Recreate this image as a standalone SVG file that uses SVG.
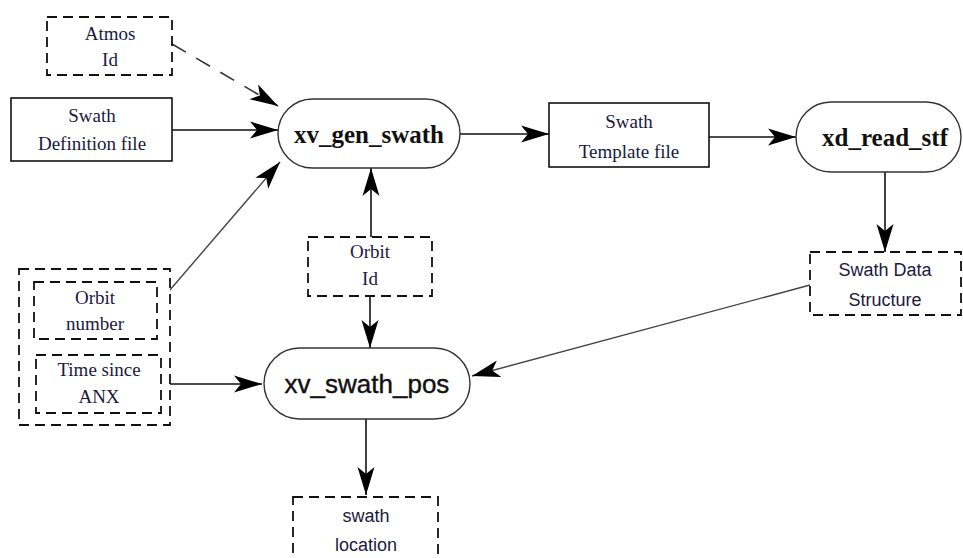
<svg xmlns="http://www.w3.org/2000/svg" width="963" height="558" viewBox="0 0 963 558">
<defs>
<marker id="ah" markerUnits="userSpaceOnUse" markerWidth="30" markerHeight="20" refX="28" refY="10" orient="auto">
<path d="M0,1.5 L28,10 L0,18.5 L7,10 Z" fill="#000"/>
</marker>
</defs>
<style>
.box{fill:#fff;stroke:#111;stroke-width:1.6}
.dash{fill:#fff;stroke:#111;stroke-width:1.8;stroke-dasharray:10 6}
.proc{fill:#fff;stroke:#333;stroke-width:1.4}
.s{font-family:"Liberation Serif","Times New Roman",serif;font-size:19px;fill:#1a1a40;text-anchor:middle}
.b{font-family:"Liberation Serif","Times New Roman",serif;font-size:25px;font-weight:bold;fill:#111;text-anchor:middle}
.a{font-family:"Liberation Sans",Arial,sans-serif;font-size:18px;fill:#1a1a40;text-anchor:middle}
.ab{font-family:"Liberation Sans",Arial,sans-serif;font-size:26px;fill:#111;text-anchor:middle;stroke:#111;stroke-width:0.4}
.c{fill:none;stroke:#111;stroke-width:1.6;marker-end:url(#ah)}
.cg{fill:none;stroke:#444;stroke-width:1.4;marker-end:url(#ah)}
.cd{fill:none;stroke:#333;stroke-width:1.6;stroke-dasharray:16 12;marker-end:url(#ah)}
</style>
<g id="connectors">
<line class="cd" x1="172" y1="44" x2="278" y2="106"/>
<line class="c" x1="172" y1="130" x2="278" y2="130"/>
<line class="cg" x1="157" y1="305" x2="280" y2="162"/>
<line class="c" x1="460" y1="134" x2="549" y2="134"/>
<line class="c" x1="709" y1="137" x2="796" y2="137"/>
<line class="c" x1="885" y1="172" x2="885" y2="252"/>
<line class="cg" x1="810" y1="285" x2="472" y2="376"/>
<line class="c" x1="371" y1="237" x2="371" y2="168"/>
<line class="c" x1="370" y1="296" x2="370" y2="348"/>
<line class="c" x1="170" y1="384" x2="262" y2="384"/>
<line class="c" x1="366" y1="419" x2="366" y2="495"/>
</g>
<g id="atmos-id">
<rect class="dash" x="47" y="17" width="125" height="58"/>
<text class="s" x="110" y="40">Atmos</text>
<text class="s" x="110" y="66">Id</text>
</g>
<g id="swath-definition-file">
<rect class="box" x="11" y="98" width="161" height="63"/>
<text class="s" x="92" y="122">Swath</text>
<text class="s" x="92" y="150">Definition file</text>
</g>
<g id="xv-gen-swath">
<rect class="proc" x="278" y="99" width="182" height="69" rx="34.5"/>
<text class="b" x="369" y="143">xv_gen_swath</text>
</g>
<g id="swath-template-file">
<rect class="box" x="549" y="103" width="160" height="64"/>
<text class="s" x="629" y="128">Swath</text>
<text class="s" x="629" y="158">Template file</text>
</g>
<g id="xd-read-stf">
<rect class="proc" x="796" y="102" width="165" height="70" rx="35"/>
<text class="b" x="885" y="146">xd_read_stf</text>
</g>
<g id="swath-data-structure">
<rect class="dash" x="810" y="252" width="151" height="63"/>
<text class="a" x="885" y="276">Swath Data</text>
<text class="a" x="885" y="306">Structure</text>
</g>
<g id="orbit-id">
<rect class="dash" x="308" y="237" width="124" height="59"/>
<text class="s" x="370" y="258">Orbit</text>
<text class="s" x="370" y="285">Id</text>
</g>
<g id="time-group">
<rect class="dash" x="19" y="269" width="151" height="156"/>
</g>
<g id="orbit-number">
<rect class="dash" x="34" y="282" width="123" height="57"/>
<text class="s" x="95" y="304">Orbit</text>
<text class="s" x="95" y="330">number</text>
</g>
<g id="time-since-anx">
<rect class="dash" x="36" y="355" width="125" height="58"/>
<text class="s" x="99" y="376">Time since</text>
<text class="s" x="99" y="403">ANX</text>
</g>
<g id="xv-swath-pos">
<rect class="proc" x="264" y="348" width="206" height="71" rx="35.5"/>
<text class="ab" x="367" y="393">xv_swath_pos</text>
</g>
<g id="swath-location">
<rect class="dash" x="293" y="497" width="145" height="75"/>
<text class="a" x="366" y="522">swath</text>
<text class="a" x="366" y="551">location</text>
</g>
</svg>
